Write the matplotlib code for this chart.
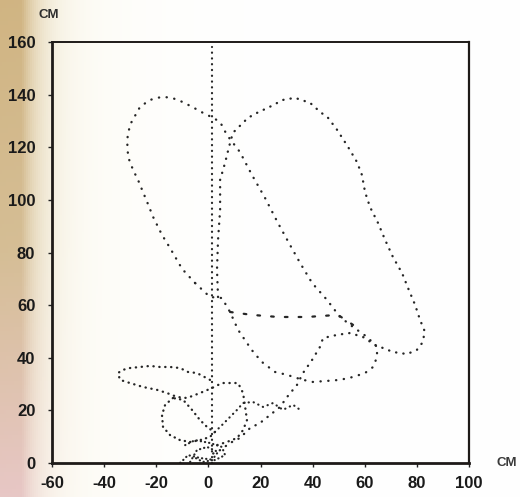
import numpy as np
import matplotlib
matplotlib.use("Agg")
import matplotlib.pyplot as plt

# trajectories, in cm
# vertical reference line
vert_x = [1.4, 1.4]
vert_y = [0.0, 158.0]

# left arc, diagonal down to the small loop and back
left_x = [-5.1, -10.1, -14.7, -17.8, -21.2, -23.5, -25.1, -27.0, -28.9, -30.8, -31.2, -30.1,
          -26.2, -22.4, -17.8, -14.0, -10.1, -6.3, -2.1, 1.8, 4.5, 7.1, 12.1, 16.7, 21.7,
          26.7, 31.3, 35.2, 39.8, 45.5, 50.5, 55.5, 60.9, 64.7, 64.7, 63.2, 60.1, 55.5,
          50.5, 45.5, 39.8, 35.2, 30.2, 25.6, 21.0, 17.5, 14.8, 11.4, 8.3, 5.2, 0.6, -5.1]
left_y = [68.4, 73.8, 81.7, 86.7, 93.5, 99.2, 103.0, 107.6, 111.4, 116.3, 122.8, 128.5,
          135.4, 138.0, 139.2, 138.8, 137.3, 135.4, 133.1, 131.2, 129.6, 124.7, 118.2, 109.5,
          100.8, 91.2, 82.9, 76.0, 68.4, 62.0, 55.5, 51.7, 47.9, 44.1, 40.3, 36.5, 34.2,
          32.7, 31.6, 31.2, 30.8, 31.9, 33.5, 34.6, 38.0, 41.8, 45.6, 50.6, 57.4, 62.7,
          63.1, 68.4]

# right big loop, small loop top and down to the origin
right_x = [3.7, 3.3, 3.7, 4.5, 4.5, 6.4, 7.9, 9.4, 15.2, 18.7, 23.6, 28.6, 33.2, 39.0,
           42.8, 45.9, 49.4, 53.6, 57.0, 58.9, 60.1, 62.0, 65.1, 67.8, 70.8, 74.3, 76.6,
           79.3, 81.2, 83.1, 82.0, 80.0, 76.2, 70.8, 67.0, 63.9, 59.3, 54.3, 49.4, 44.0,
           42.8, 39.8, 36.3, 34.0, 30.2, 27.5, 19.8, 16.0, 12.1, 8.3, 4.5, 0.6]
right_y = [63.1, 73.4, 84.8, 96.2, 107.6, 114.1, 120.1, 125.5, 131.2, 133.1, 135.4, 138.0,
           138.8, 136.9, 133.5, 131.2, 126.6, 120.1, 114.4, 109.5, 103.0, 97.3, 91.2, 84.8,
           78.3, 72.2, 66.5, 60.1, 54.4, 49.8, 45.6, 43.0, 41.4, 42.2, 43.7, 44.9, 47.9,
           49.4, 48.7, 47.5, 44.1, 39.2, 34.2, 29.7, 25.1, 21.3, 15.2, 13.3, 9.5, 7.6, 4.9, 3.0]

# horizontal stretch at ~55 cm
mid_x = [8.3, 16.7, 26.7, 37.8, 49.7, 55.5]
mid_y = [57.4, 56.3, 55.5, 55.5, 56.3, 52.5]

# tail to the left at ~30 cm
tail_x = [0.6, -4.4, -7.8, -10.9, -14.7, -18.6, -22.4, -26.2, -30.1, -32.8, -34.7, -33.9,
          -30.1, -25.1, -19.7, -15.9, -12.0, -8.2, -3.2, 1.4, 5.2, 11.4, 13.3, 14.1, 14.8,
          13.3, 11.0, 7.1, 3.3]
tail_y = [31.6, 34.2, 34.6, 36.1, 36.5, 36.5, 36.9, 36.5, 36.1, 35.4, 34.2, 31.6,
          30.4, 28.9, 27.8, 26.6, 25.1, 24.7, 26.6, 28.5, 30.4, 30.4, 26.6, 21.3, 16.3,
          12.5, 9.5, 8.0, 6.8]

# teardrop loop low left
drop_x = [-13.6, -16.6, -17.8, -17.4, -14.7, -10.9, -7.0, -3.2, 0.6, 2.5, -0.1, -3.2,
          -6.3, -9.7, -13.6]
drop_y = [24.7, 22.1, 18.2, 13.7, 10.6, 8.7, 8.0, 8.7, 9.9, 11.8, 13.3, 16.3, 20.2, 24.0, 24.7]

# rising squiggle to the right
squig_x = [2.5, 5.2, 8.3, 11.0, 13.3, 17.1, 21.0, 24.8, 28.6, 32.5, 35.2]
squig_y = [11.8, 14.4, 17.5, 20.2, 22.8, 23.2, 21.3, 22.8, 20.2, 22.1, 20.2]

# scribbles near the origin
knot_x = [-8.9, -5.1, 0.6, 5.2, 6.4, 2.5, -3.2, -7.8, -9.7, -10.9]
knot_y = [6.8, 8.7, 7.6, 6.1, 3.0, 1.1, 1.9, 3.0, 1.1, 0.0]
knot2_x = [-7.0, -4.4, -0.5, 3.7, 1.4, -2.1, -6.0]
knot2_y = [0.4, 4.9, 6.1, 4.2, 1.1, 0.4, 2.5]

x_ticks = [-60, -40, -20, 0, 20, 40, 60, 80, 100]
y_ticks = [0, 20, 40, 60, 80, 100, 120, 140, 160]

fig = plt.figure(figsize=(5.2, 4.97), dpi=100)

# scanned paper background: tan/pink strip on the left, yellowish tint fading to white
bg = fig.add_axes([0, 0, 1, 1])
bg.axis('off')
h, w = 120, 260
u = np.linspace(0, 1, w)[None, :]
v = np.linspace(0, 1, h)[:, None]
strong = np.clip(np.exp(-(u - 0.04) / 0.035), 0, 1) * 0.9
tint = np.exp(-u / 0.14) * 0.7
top_col = np.array([0.80, 0.68, 0.47])
mid_col = np.array([0.82, 0.72, 0.55])
bot_col = np.array([0.90, 0.76, 0.76])
vv = v[..., None]
col = np.where(vv < 0.5,
               top_col * (1 - 2 * vv) + mid_col * (2 * vv),
               mid_col * (2 - 2 * vv) + bot_col * (2 * vv - 1))
yellow = np.array([0.97, 0.95, 0.84])
img = np.ones((h, w, 3))
img = img * (1 - tint[..., None]) + yellow * tint[..., None]
img = img * (1 - strong[..., None]) + col * strong[..., None]
bg.imshow(img, aspect='auto', extent=[0, 1, 0, 1], origin='upper', zorder=0)
bg.set_xlim(0, 1)
bg.set_ylim(0, 1)

ax = fig.add_axes([0.1, 0.0684, 0.802, 0.847])
ax.patch.set_alpha(0)

dot = dict(color='#262626', dash_capstyle='round', solid_capstyle='round')
ax.plot(vert_x, vert_y, lw=1.6, linestyle=(0, (0.1, 2.5)), **dot)
ax.plot(left_x, left_y, lw=1.7, linestyle=(0, (0.1, 3.2)), **dot)
ax.plot(right_x, right_y, lw=1.7, linestyle=(0, (0.1, 3.0)), **dot)
ax.plot(mid_x, mid_y, lw=1.6, linestyle=(0, (1.2, 5.0)), **dot)
ax.plot(tail_x, tail_y, lw=1.7, linestyle=(0, (0.1, 2.4)), **dot)
ax.plot(drop_x, drop_y, lw=1.7, linestyle=(0, (0.1, 2.2)), **dot)
ax.plot(squig_x, squig_y, lw=1.6, linestyle=(0, (0.1, 2.2)), **dot)
ax.plot(knot_x, knot_y, lw=1.6, linestyle=(0, (0.1, 1.8)), **dot)
ax.plot(knot2_x, knot2_y, lw=1.6, linestyle=(0, (0.1, 1.8)), **dot)

ax.set_xlim(-60, 100)
ax.set_ylim(0, 160)
ax.set_xticks(x_ticks)
ax.set_yticks(y_ticks)
ax.set_xticklabels([str(t) for t in x_ticks])
ax.set_yticklabels([str(t) for t in y_ticks])
ax.tick_params(direction='out', length=3, width=1, color='#222222')
ax.tick_params(axis='y', pad=9)
ax.tick_params(axis='x', pad=6)
for lab in ax.get_xticklabels() + ax.get_yticklabels():
    lab.set_fontfamily('Liberation Sans')
    lab.set_fontweight('bold')
    lab.set_fontsize(12)
    lab.set_color('#1a1a1a')

for side, lw in [('left', 2.0), ('bottom', 2.0), ('right', 1.6), ('top', 1.4)]:
    ax.spines[side].set_linewidth(lw)
    ax.spines[side].set_color('#1e1a18')

fig.text(49 / 520, 1 - 15 / 497, 'CM', ha='center', va='center', fontsize=9.5,
         fontweight='bold', family='Liberation Sans', color='#2e2e2e')
fig.text(507 / 520, 1 - 463 / 497, 'CM', ha='center', va='center', fontsize=9.5,
         fontweight='bold', family='Liberation Sans', color='#3a3a3a')

fig.savefig('out.png', dpi=100)
